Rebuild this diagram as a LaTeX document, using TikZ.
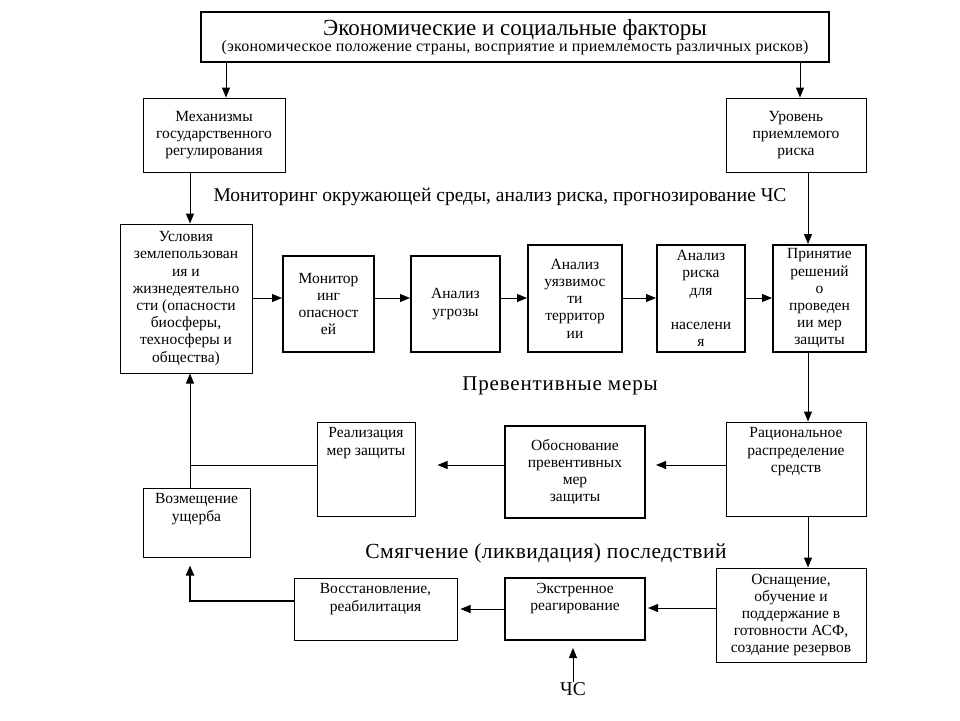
\documentclass[tikz,border=0pt]{standalone}
\usepackage{fontspec}
\setmainfont{Liberation Serif}
\usetikzlibrary{arrows.meta}

\newcommand{\boxfont}{\fontsize{15.5}{17.2}\selectfont}
\newcommand{\headfont}{\fontsize{19.5}{22}\selectfont}

\tikzset{
    box/.style={draw, line width=1pt, align=center, font=\boxfont, inner sep=1pt},
    bbox/.style={box, line width=2pt},
    toptext/.style={anchor=north, yshift=-5pt, align=center, font=\boxfont, inner sep=1pt},
    arr/.style={-{Triangle[length=10pt,width=8pt]}, line width=1pt},
    head/.style={font=\headfont, inner sep=0pt},
}

\begin{document}
\begin{tikzpicture}[x=1pt, y=-1pt]

    \path[fill=white, use as bounding box] (0,0) rectangle (960,720);

    % factors on top
    \node (fact) [box, line width=1.5pt, minimum width=628pt, minimum height=50pt] at (515,37)
        {{\fontsize{23}{25}\selectfont Экономические и социальные факторы}\\[-1pt]
         {\fontsize{16}{17}\selectfont\addfontfeature{LetterSpace=1.5} (экономическое положение страны, восприятие и приемлемость различных рисков)}};
    \node (mech) [box, minimum width=142pt, minimum height=74pt] at (214,135)
        {Механизмы\\государственного\\регулирования};
    \node (urov) [box, minimum width=140pt, minimum height=74pt] at (796,135)
        {Уровень\\приемлемого\\риска};

    \node (mon-lbl) [head] at (500,197) {Мониторинг окружающей среды, анализ риска, прогнозирование ЧС};

    % monitoring row
    \node (usl) [box, minimum width=132pt, minimum height=149pt] at (186,298.5)
        {Условия\\землепользован\\ия и\\жизнедеятельно\\сти (опасности\\биосферы,\\техносферы и\\общества)};
    \node (mon) [bbox, minimum width=91pt, minimum height=96pt] at (328.5,304)
        {Монитор\\инг\\опасност\\ей};
    \node (ugr) [bbox, minimum width=89pt, minimum height=96pt] at (455.5,304)
        {Анализ\\угрозы};
    \node (uyaz) [bbox, minimum width=94pt, minimum height=107pt] at (575,298.5)
        {Анализ\\уязвимос\\ти\\территор\\ии};
    \node (risk) [bbox, minimum width=88pt, minimum height=107pt] at (701,298.5)
        {Анализ\\риска\\для\\ \\населени\\я};
    \node (prin) [bbox, minimum width=93pt, minimum height=107pt] at (819.5,298.5)
        {Принятие\\решений\\о\\проведен\\ии мер\\защиты};

    \node (prev-lbl) [head, font=\fontsize{21}{24}\selectfont\addfontfeature{LetterSpace=4}] at (560,386) {Превентивные меры};

    % preventive row
    \node (real) [box, minimum width=98pt, minimum height=94pt,
        label={[toptext]north:{Реализация\\мер защиты}}] at (366,469) {};
    \node (obosn) [bbox, minimum width=140pt, minimum height=92pt] at (575,472)
        {Обоснование\\превентивных\\мер\\защиты};
    \node (rac) [box, minimum width=140pt, minimum height=94pt,
        label={[toptext]north:{Рациональное\\распределение\\средств}}] at (796,469) {};
    \node (vozm) [box, minimum width=107pt, minimum height=69pt,
        label={[toptext]north:{Возмещение\\ущерба}}] at (196.5,522.5) {};

    \node (smyag-lbl) [head, font=\fontsize{21.5}{24}\selectfont\addfontfeature{LetterSpace=2}] at (546,553) {Смягчение (ликвидация) последствий};

    % mitigation row
    \node (vost) [box, minimum width=163pt, minimum height=62pt,
        label={[toptext]north:{Восстановление,\\реабилитация}}] at (375.5,609) {};
    \node (ekstr) [bbox, minimum width=140pt, minimum height=62pt,
        label={[toptext]north:{Экстренное\\реагирование}}] at (575,609) {};
    \node (osn) [box, minimum width=150pt, minimum height=94pt] at (791,615)
        {Оснащение,\\обучение и\\поддержание в\\готовности АСФ,\\создание резервов};

    \node (chs) [head, anchor=north] at (573,682) {ЧС};

    % connectors
    \draw[arr] (fact.south -| 226,0) -- (mech.north -| 226,0);
    \draw[arr] (fact.south -| 800,0) -- (urov.north -| 800,0);
    \draw[arr] (mech.south -| 190,0) -- (usl.north -| 190,0);
    \draw[arr] (urov.south -| 808,0) -- (prin.north -| 808,0);

    \draw[arr] (usl.east |- 0,298) -- (mon.west |- 0,298);
    \draw[arr] (mon.east |- 0,298) -- (ugr.west |- 0,298);
    \draw[arr] (ugr.east |- 0,298) -- (uyaz.west |- 0,298);
    \draw[arr] (uyaz.east |- 0,298) -- (risk.west |- 0,298);
    \draw[arr] (risk.east |- 0,298) -- (prin.west |- 0,298);

    \draw[arr] (prin.south -| 808,0) -- (rac.north -| 808,0);
    \draw[arr, shorten >=10pt] (rac.west |- 0,465) -- (obosn.east |- 0,465);
    \draw[arr, shorten >=22pt] (obosn.west |- 0,465) -- (real.east |- 0,465);
    \coordinate (jn) at (190,465);
    \draw[line width=1pt] (real.west |- jn) -- (jn);
    \draw[arr] (vozm.north -| jn) -- (usl.south -| jn);

    \draw[arr] (rac.south -| 808,0) -- (osn.north -| 808,0);
    \draw[arr, shorten >=2pt] (osn.west |- 0,608) -- (ekstr.east |- 0,608);
    \draw[arr, shorten >=3pt] (ekstr.west |- 0,609) -- (vost.east |- 0,609);
    \draw[arr, line width=2pt, shorten >=8pt] (vost.west |- 0,601) -| (vozm.south -| jn);
    \draw[arr, shorten >=7pt] (chs.north) -- (ekstr.south -| chs.north);

\end{tikzpicture}
\end{document}
